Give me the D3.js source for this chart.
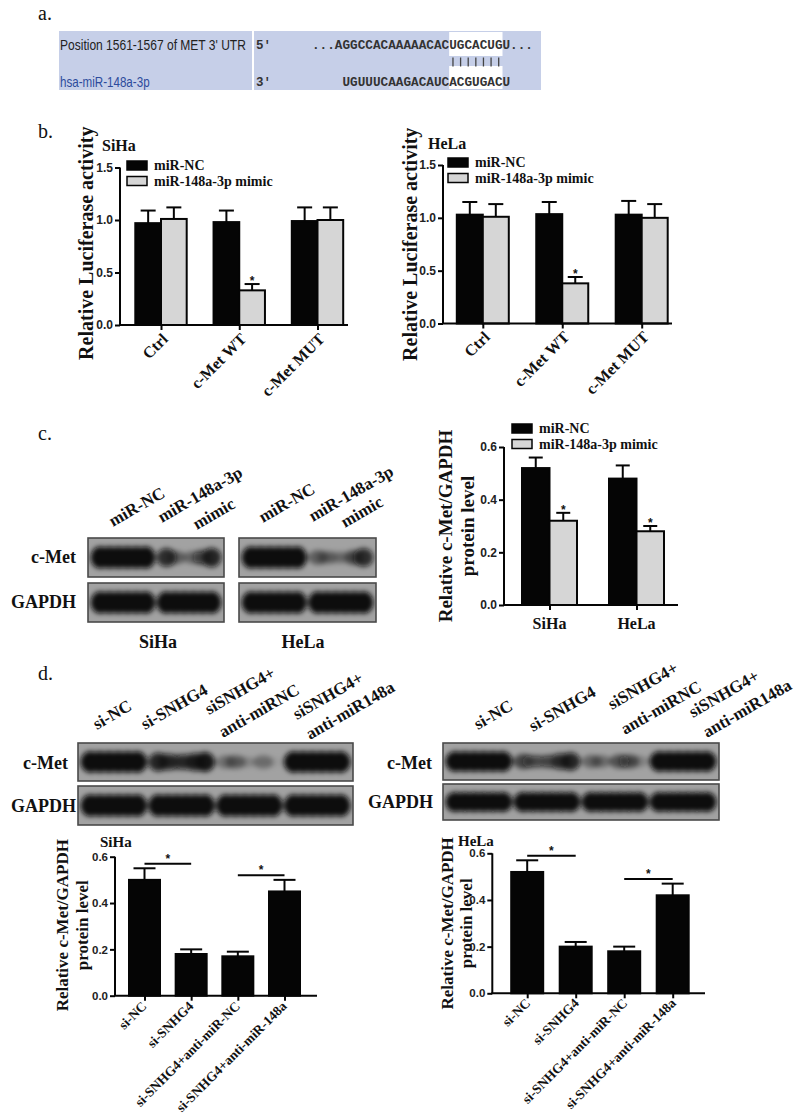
<!DOCTYPE html>
<html><head><meta charset="utf-8">
<script src="https://cdn.jsdelivr.net/npm/d3@7"></script>
<style>body{margin:0;background:#fff}</style>
</head><body>
<script>
// ================= DATA =================
// Panel a
const utrName = "Position 1561-1567 of MET 3' UTR";
const mirName = "hsa-miR-148a-3p";
const utrSeq = "...AGGCCACAAAAACACUGCACUGU...";
const mirSeq = "UGUUUCAAGACAUCACGUGACU";
const mirSeqStartCol = 4;
const seedCols = [18, 19, 20, 21, 22, 23, 24];

// Panel b
const seriesNames = ["miR-NC", "miR-148a-3p mimic"];
const lucCats = ["Ctrl", "c-Met WT", "c-Met MUT"];
const lucTicks = [0, 0.5, 1.0, 1.5];
const sihaLucNC = [0.97, 0.98, 0.99];
const sihaLucNCErr = [0.12, 0.11, 0.13];
const sihaLucMimic = [1.01, 0.33, 1.00];
const sihaLucMimicErr = [0.11, 0.06, 0.12];
const helaLucNC = [1.03, 1.035, 1.03];
const helaLucNCErr = [0.12, 0.115, 0.13];
const helaLucMimic = [1.01, 0.38, 1.00];
const helaLucMimicErr = [0.12, 0.06, 0.13];
const lucSig = [false, true, false];

// Panel c
const cellLines = ["SiHa", "HeLa"];
const protTicks = [0, 0.2, 0.4, 0.6];
const cNC = [0.52, 0.48];
const cNCErr = [0.04, 0.05];
const cMimic = [0.32, 0.28];
const cMimicErr = [0.03, 0.02];
const cSig = [true, true];
const cBlotLanes = [["miR-NC"], ["miR-148a-3p", "mimic"]];
const cSihaMet = [[1,1,1,1,1,1],[0.75,0.35,0.1,0.3,0.5,0.8]];
const cSihaGapdh = [[1,1,1,1,1,1],[1,1,1,1,1,1]];
const cHelaMet = [[1,1,1,1,1,1],[0.4,0.3,0.2,0.2,0.45,0.75]];
const cHelaGapdh = [[1,1,1,1,1,1],[1,1,1,1,1,1]];

// Panel d
const dCats = ["si-NC", "si-SNHG4", "si-SNHG4+anti-miR-NC", "si-SNHG4+anti-miR-148a"];
const dBlotLanes = [["si-NC"], ["si-SNHG4"], ["siSNHG4+", "anti-miRNC"], ["siSNHG4+", "anti-miR148a"]];
const dSiha = [0.50, 0.18, 0.17, 0.45];
const dSihaErr = [0.05, 0.02, 0.02, 0.05];
const dHela = [0.52, 0.20, 0.18, 0.42];
const dHelaErr = [0.05, 0.02, 0.02, 0.05];
const dSigPairs = [[0, 1], [2, 3]];
const dSihaSigLevel = [0.57, 0.52];
const dHelaSigLevel = [0.59, 0.49];
const dSihaMet = [[1,1,1,1,1,1],[0.8,0.65,0.55,0.6,0.75,0.9],[0.3,0.35,0.15,0.05,0.3,0.05],[1,1,1,1,1,1]];
const dSihaGapdh = [[1,1,1,1,1,1],[1,1,1,1,1,1],[1,1,1,1,1,1],[1,1,1,1,1,1]];
const dHelaMet = [[1,1,1,1,1,1],[0.55,0.4,0.35,0.45,0.65,0.8],[0.35,0.3,0.05,0.45,0.45,0.2],[1,1,1,1,1,1]];
const dHelaGapdh = [[1,1,1,1,1,1],[1,1,1,1,1,1],[1,1,1,1,1,1],[1,1,1,1,1,1]];

// ================= STYLE / LAYOUT =================
const SERIF = "'Liberation Serif','Times New Roman',serif";
const SANS = "'Liberation Sans',Arial,sans-serif";
const MONO = "'Liberation Mono','Courier New',monospace";
const BLACK = "#050505", GRAY = "#d6d6d6";

const svg = d3.select("body").append("svg").attr("width", 800).attr("height", 1119);
const defs = svg.append("defs");
defs.append("filter").attr("id", "blur").attr("x", "-30%").attr("y", "-80%").attr("width", "160%").attr("height", "260%")
  .append("feGaussianBlur").attr("stdDeviation", 2.4);

function txt(g, s, x, y, o = {}) {
  const t = g.append("text").attr("x", x).attr("y", y)
    .attr("font-family", o.family || SERIF).attr("font-weight", o.weight || "bold")
    .attr("font-size", o.size || 15).attr("fill", o.fill || "#111")
    .attr("text-anchor", o.anchor || "start").text(s);
  if (o.rotate !== undefined) t.attr("transform", `rotate(${o.rotate},${x},${y})`);
  return t;
}

// panel letters
[["a.", 38, 20], ["b.", 38, 138], ["c.", 38, 440], ["d.", 38, 680]].forEach(([s, x, y]) =>
  txt(svg, s, x, y, { weight: "normal", size: 20 }));

// ================= PANEL a =================
(function () {
  const g = svg.append("g");
  const boxFill = "#c6cfe8";
  g.append("rect").attr("x", 59).attr("y", 31).attr("width", 193).attr("height", 59).attr("fill", boxFill);
  g.append("rect").attr("x", 254).attr("y", 31).attr("width", 287).attr("height", 59).attr("fill", boxFill);
  const col = d3.scaleBand().domain(d3.range(utrSeq.length)).range([312, 312 + utrSeq.length * 7.62]);
  const hx = col(seedCols[0]), hw = col(seedCols[seedCols.length - 1]) + col.bandwidth() - hx;
  g.append("rect").attr("x", hx).attr("y", 32).attr("width", hw).attr("height", 24).attr("fill", "#fff");
  g.append("rect").attr("x", hx).attr("y", 66).attr("width", hw).attr("height", 23).attr("fill", "#fff");
  g.append("text").attr("transform", "translate(60,50) scale(0.83,1)")
    .attr("font-family", SANS).attr("font-size", 14.5).attr("fill", "#222").text(utrName);
  g.append("text").attr("transform", "translate(60,87) scale(0.8,1)")
    .attr("font-family", SANS).attr("font-size", 14.5).attr("fill", "#2d4b9c").text(mirName);
  txt(g, "5'", 256, 49, { family: MONO, size: 12.5, fill: "#333" });
  txt(g, "3'", 256, 86, { family: MONO, size: 12.5, fill: "#333" });
  g.selectAll(".u").data(utrSeq.split("")).join("text")
    .attr("x", (d, i) => col(i) + col.bandwidth() / 2).attr("y", 49)
    .attr("text-anchor", "middle").attr("font-family", MONO).attr("font-weight", "bold")
    .attr("font-size", 12.7).attr("fill", "#333").text(d => d);
  g.selectAll(".m").data(mirSeq.split("")).join("text")
    .attr("x", (d, i) => col(i + mirSeqStartCol) + col.bandwidth() / 2).attr("y", 86)
    .attr("text-anchor", "middle").attr("font-family", MONO).attr("font-weight", "bold")
    .attr("font-size", 12.7).attr("fill", "#333").text(d => d);
  g.selectAll(".p").data(seedCols).join("line")
    .attr("x1", c => col(c) + col.bandwidth() / 2).attr("x2", c => col(c) + col.bandwidth() / 2)
    .attr("y1", 57.5).attr("y2", 66.5).attr("stroke", "#444").attr("stroke-width", 1.3);
})();

// ================= generic bar chart =================
function barChart(cfg) {
  const g = svg.append("g");
  const y = d3.scaleLinear().domain([0, cfg.ymax]).range([cfg.y0, cfg.y1]);
  const x = d3.scalePoint().domain(cfg.cats).range(cfg.centers);
  const nS = cfg.series.length;
  const sub = d3.scaleBand().domain(d3.range(nS)).range([-cfg.barW * nS / 2, cfg.barW * nS / 2]);
  cfg.series.forEach((s, si) => {
    const bars = g.append("g");
    bars.selectAll("rect").data(s.vals).join("rect")
      .attr("x", (d, i) => x(cfg.cats[i]) + sub(si)).attr("width", sub.bandwidth())
      .attr("y", d => y(d)).attr("height", d => y(0) - y(d))
      .attr("fill", s.fill).attr("stroke", BLACK).attr("stroke-width", 2);
    const cap = cfg.capW;
    const eb = g.append("g").attr("stroke", BLACK).attr("stroke-width", 2);
    s.vals.forEach((v, i) => {
      const cx = x(cfg.cats[i]) + sub(si) + sub.bandwidth() / 2;
      eb.append("line").attr("x1", cx).attr("x2", cx).attr("y1", y(v)).attr("y2", y(v + s.errs[i]));
      eb.append("line").attr("x1", cx - cap / 2).attr("x2", cx + cap / 2).attr("y1", y(v + s.errs[i])).attr("y2", y(v + s.errs[i]));
      if (s.sig && s.sig[i]) txt(g, "*", cx, y(v + s.errs[i]) + 1, { size: 12, anchor: "middle", family: SANS });
    });
  });
  // y axis
  const ya = g.append("g").attr("transform", `translate(${cfg.axisX},0)`)
    .call(d3.axisLeft(y).tickValues(cfg.ticks).tickFormat(d3.format(".1f")).tickSize(5).tickPadding(2));
  ya.select(".domain").attr("stroke", BLACK).attr("stroke-width", 2).attr("d", `M0,${y(0)}V${y(cfg.ymax)}`);
  ya.selectAll(".tick line").attr("stroke", BLACK).attr("stroke-width", 2);
  ya.selectAll(".tick text").attr("font-family", SANS).attr("font-weight", "bold").attr("font-size", cfg.tickSize).attr("fill", "#222");
  // x axis
  g.append("line").attr("x1", cfg.axisX - 1).attr("x2", cfg.axisEnd).attr("y1", y(0)).attr("y2", y(0))
    .attr("stroke", BLACK).attr("stroke-width", 2);
  const xa = g.append("g").attr("transform", `translate(0,${y(0)})`)
    .call(d3.axisBottom(x).tickSize(5).tickFormat(""));
  xa.select(".domain").remove();
  xa.selectAll(".tick line").attr("stroke", BLACK).attr("stroke-width", 2);
  // x labels
  cfg.cats.forEach(c => {
    if (cfg.xRot) {
      txt(g, c, x(c) + cfg.xdx, cfg.xLabY, { size: cfg.xSize, anchor: "end", rotate: -45 });
    } else {
      txt(g, c, x(c), cfg.xLabY, { size: cfg.xSize, anchor: "middle" });
    }
  });
  // significance brackets
  (cfg.brackets || []).forEach(b => {
    const x1 = x(cfg.cats[b.pair[0]]), x2 = x(cfg.cats[b.pair[1]]);
    g.append("line").attr("x1", x1).attr("x2", x2).attr("y1", y(b.level)).attr("y2", y(b.level))
      .attr("stroke", BLACK).attr("stroke-width", 2);
    txt(g, "*", (x1 + x2) / 2, y(b.level) - 1, { size: 12, anchor: "middle", family: SANS });
  });
  // y title
  cfg.yTitle.forEach((line, i) => {
    txt(g, line, cfg.yTitleX[i], (cfg.y0 + cfg.y1) / 2 + cfg.yTitleDy, { size: cfg.yTitleSize, anchor: "middle", rotate: -90 });
  });
  return { g, x, y };
}

function legend(x, y0, gap, size) {
  const g = svg.append("g");
  [BLACK, GRAY].forEach((f, i) => {
    g.append("rect").attr("x", x).attr("y", y0 + i * gap).attr("width", 20).attr("height", 9)
      .attr("fill", f).attr("stroke", BLACK).attr("stroke-width", 1.5);
    txt(g, seriesNames[i], x + 27, y0 + i * gap + 9, { size: size });
  });
}

// ================= PANEL b =================
barChart({
  ymax: 1.5, y0: 325, y1: 167.5, cats: lucCats, centers: [161, 317.5], barW: 25.7, capW: 15,
  series: [{ vals: sihaLucNC, errs: sihaLucNCErr, fill: BLACK },
           { vals: sihaLucMimic, errs: sihaLucMimicErr, fill: GRAY, sig: lucSig }],
  ticks: lucTicks, axisX: 120, axisEnd: 348, tickSize: 12,
  xRot: true, xdx: 8, xLabY: 340, xSize: 16,
  yTitle: ["Relative Luciferase activity"], yTitleX: [93], yTitleDy: -3, yTitleSize: 20
});
txt(svg, "SiHa", 102, 151, { size: 16 });
legend(127, 161, 15.5, 14);

barChart({
  ymax: 1.5, y0: 323.5, y1: 165, cats: lucCats, centers: [482.8, 641.7], barW: 26, capW: 15,
  series: [{ vals: helaLucNC, errs: helaLucNCErr, fill: BLACK },
           { vals: helaLucMimic, errs: helaLucMimicErr, fill: GRAY, sig: lucSig }],
  ticks: lucTicks, axisX: 443, axisEnd: 672, tickSize: 12,
  xRot: true, xdx: 8, xLabY: 338, xSize: 16,
  yTitle: ["Relative Luciferase activity"], yTitleX: [417], yTitleDy: 0, yTitleSize: 20
});
txt(svg, "HeLa", 428, 149, { size: 16 });
legend(448, 158, 15.5, 14);

// ================= PANEL c chart =================
barChart({
  ymax: 0.6, y0: 605, y1: 447, cats: cellLines, centers: [549.5, 636.5], barW: 27.5, capW: 14,
  series: [{ vals: cNC, errs: cNCErr, fill: BLACK },
           { vals: cMimic, errs: cMimicErr, fill: GRAY, sig: cSig }],
  ticks: protTicks, axisX: 504, axisEnd: 678, tickSize: 12,
  xRot: false, xLabY: 629, xSize: 16,
  yTitle: ["Relative c-Met/GAPDH", "protein level"], yTitleX: [452, 474], yTitleDy: 0, yTitleSize: 19
});
legend(512, 424, 15.5, 14);

// ================= PANEL d charts =================
barChart({
  ymax: 0.6, y0: 995.7, y1: 856.7, cats: dCats, centers: [144.5, 284.5], barW: 31, capW: 22,
  series: [{ vals: dSiha, errs: dSihaErr, fill: BLACK }],
  ticks: protTicks, axisX: 115, axisEnd: 317, tickSize: 11.5,
  xRot: true, xdx: 3, xLabY: 1007, xSize: 13.5,
  brackets: dSigPairs.map((p, i) => ({ pair: p, level: dSihaSigLevel[i] })),
  yTitle: ["Relative c-Met/GAPDH", "protein level"], yTitleX: [68, 88], yTitleDy: -1, yTitleSize: 17
});
txt(svg, "SiHa", 100, 847, { size: 15 });

barChart({
  ymax: 0.6, y0: 993.3, y1: 853.3, cats: dCats, centers: [527.2, 672.7], barW: 32, capW: 22,
  series: [{ vals: dHela, errs: dHelaErr, fill: BLACK }],
  ticks: protTicks, axisX: 492.3, axisEnd: 705, tickSize: 11.5,
  xRot: true, xdx: 4, xLabY: 1004, xSize: 13.5,
  brackets: dSigPairs.map((p, i) => ({ pair: p, level: dHelaSigLevel[i] })),
  yTitle: ["Relative c-Met/GAPDH", "protein level"], yTitleX: [453, 472], yTitleDy: 0, yTitleSize: 17
});
txt(svg, "HeLa", 458, 846, { size: 15 });

// ================= Western blots =================
function blot(x0, y0, w, h, lanes) {
  const g = svg.append("g");
  const id = "clip" + Math.round(x0) + "_" + Math.round(y0);
  defs.append("clipPath").attr("id", id).append("rect").attr("x", x0).attr("y", y0).attr("width", w).attr("height", h);
  g.append("rect").attr("x", x0).attr("y", y0).attr("width", w).attr("height", h).attr("fill", "#a2a2a2");
  const lane = d3.scaleBand().domain(d3.range(lanes.length)).range([x0 + 3, x0 + w - 3]).paddingInner(0.09).paddingOuter(0.03);
  const bands = g.append("g").attr("clip-path", `url(#${id})`).append("g").attr("filter", "url(#blur)");
  lanes.forEach((seg, li) => {
    const s = d3.scaleBand().domain(d3.range(seg.length)).range([lane(li) + 3, lane(li) + lane.bandwidth() - 3]);
    seg.forEach((v, si) => {
      if (v <= 0.02) return;
      bands.append("ellipse").attr("cx", s(si) + s.bandwidth() / 2).attr("cy", y0 + h * 0.5)
        .attr("rx", s.bandwidth() * 1.1).attr("ry", h * (0.13 + 0.15 * v))
        .attr("fill", "#0b0b0b").attr("opacity", Math.min(1, v * 1.05));
    });
  });
  g.append("rect").attr("x", x0).attr("y", y0).attr("width", w).attr("height", h)
    .attr("fill", "none").attr("stroke", "#4a4a4a").attr("stroke-width", 1.6);
  return lane;
}

function laneLabels(entries, size, rot) {
  entries.forEach(([s, x, y]) => txt(svg, s, x, y, { size: size, rotate: rot }));
}

// panel c blots
blot(88, 538, 136, 39, cSihaMet);
blot(88, 583, 136, 39, cSihaGapdh);
blot(239, 538, 137, 39, cHelaMet);
blot(239, 583, 137, 39, cHelaGapdh);
laneLabels([
  [cBlotLanes[0][0], 113, 527], [cBlotLanes[1][0], 162, 523], [cBlotLanes[1][1], 197, 530],
  [cBlotLanes[0][0], 263, 523], [cBlotLanes[1][0], 313, 522], [cBlotLanes[1][1], 345, 528]
], 17, -30);
txt(svg, "c-Met", 76, 563, { size: 18, anchor: "end" });
txt(svg, "GAPDH", 76, 608, { size: 18, anchor: "end" });
txt(svg, cellLines[0], 158, 648, { size: 18, anchor: "middle" });
txt(svg, cellLines[1], 303, 648, { size: 18, anchor: "middle" });

// panel d blots
blot(78, 743, 275, 38, dSihaMet);
blot(78, 786, 275, 39, dSihaGapdh);
blot(443, 743, 276, 37, dHelaMet);
blot(443, 784, 276, 36, dHelaGapdh);
laneLabels([
  [dBlotLanes[0][0], 97, 730], [dBlotLanes[1][0], 145, 730],
  [dBlotLanes[2][0], 209, 715], [dBlotLanes[2][1], 223, 738],
  [dBlotLanes[3][0], 297, 720], [dBlotLanes[3][1], 310, 740],
  [dBlotLanes[0][0], 478, 730], [dBlotLanes[1][0], 533, 732],
  [dBlotLanes[2][0], 612, 710], [dBlotLanes[2][1], 625, 735],
  [dBlotLanes[3][0], 693, 718], [dBlotLanes[3][1], 707, 738]
], 17, -30);
txt(svg, "c-Met", 68, 769, { size: 18, anchor: "end" });
txt(svg, "GAPDH", 76, 812, { size: 18, anchor: "end" });
txt(svg, "c-Met", 432, 769, { size: 18, anchor: "end" });
txt(svg, "GAPDH", 433, 808, { size: 18, anchor: "end" });
</script>
</body></html>
